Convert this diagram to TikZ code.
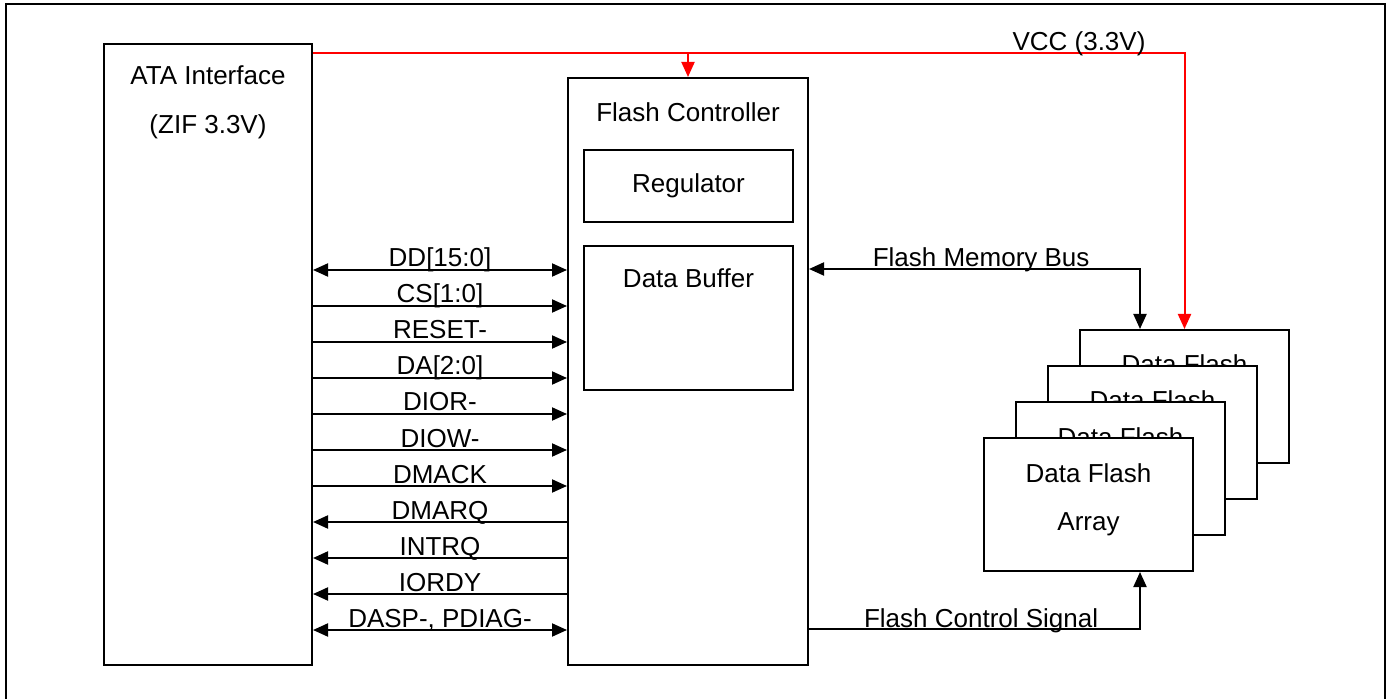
\documentclass[tikz,border=0pt]{standalone}
\usepackage{fontspec}
\setmainfont{Liberation Sans}
\usetikzlibrary{arrows.meta, positioning, calc}

\begin{document}
\begin{tikzpicture}[
  x=0.5pt, y=-0.5pt,
  >={Triangle[length=7.5pt, width=6.5pt]},
  box/.style={draw, line width=1pt, anchor=north west, inner sep=0pt,
              fill=white, font=\fontsize{13pt}{15pt}\selectfont},
  txt/.style={anchor=base, inner sep=0pt, font=\fontsize{13pt}{15pt}\selectfont},
  sig/.style={line width=1pt},
  vcc/.style={line width=1pt, red}
]
\useasboundingbox (0,0) rectangle (1390,699);

% outer frame
\draw[line width=1pt] (6,699) -- (6,4) -- (1385,4) -- (1385,699);

% ATA side
\node[box, minimum width=104pt, minimum height=310.5pt] (ata) at (103,43) {};
\node[txt] at ($(ata.north)+(0,42)$) {ATA Interface};
\node[txt] at ($(ata.north)+(0,91)$) {(ZIF 3.3V)};

% controller with its inner blocks
\node[box, minimum width=120pt, minimum height=293.5pt] (fc) at (567,77) {};
\node[txt] at ($(fc.north)+(0,45)$) {Flash Controller};
\node[box, minimum width=104.5pt, minimum height=36pt] (reg) at (583,149) {Regulator};
\node[box, minimum width=104.5pt, minimum height=72pt] (buf) at (583,245) {};
\node[txt] at ($(buf.north)+(0,43)$) {Data Buffer};

% stacked flash arrays, back to front
\foreach \i in {3,2,1,0} {
  \node[box, minimum width=104.5pt, minimum height=66.5pt] (df\i)
    at ({983+32*\i},{437-36*\i}) {};
  \node[txt] at ($(df\i.north)+(0,45)$) {Data Flash};
}
\node[txt] at ($(df0.north)+(0,93)$) {Array};
\coordinate (busin) at ($(df3.north west)+(61,0)$);
\coordinate (ctlin) at ($(df0.south west)+(157,0)$);

% ATA signals
\foreach \i/\name/\dir [evaluate=\i as \yy using 270+36*\i] in {
    0/DD[15:0]/<->, 1/CS[1:0]/->, 2/RESET-/->, 3/DA[2:0]/->,
    4/DIOR-/->, 5/DIOW-/->, 6/DMACK/->, 7/DMARQ/<-,
    8/INTRQ/<-, 9/IORDY/<-, 10/{DASP-, PDIAG-}/<->}
  \draw[sig, \dir] (ata.east |- 0,\yy) -- (fc.west |- 0,\yy)
    node[txt, midway, yshift=1.5pt] {\name};

% flash side
\draw[sig, <->] (fc.east |- 0,269) -| (busin)
  node[txt, pos=0.26, yshift=1pt] {Flash Memory Bus};
\draw[sig, ->] (fc.east |- 0,629) -| (ctlin)
  node[txt, pos=0.26, yshift=1pt] {Flash Control Signal};

% supply
\draw[vcc, ->] (ata.east |- 0,53) -| (df3.north);
\draw[vcc, ->] (fc.north |- 0,53) -- (fc.north);
\node[txt] (vcclbl) at (1079,51) {VCC (3.3V)};

\end{tikzpicture}
\end{document}
